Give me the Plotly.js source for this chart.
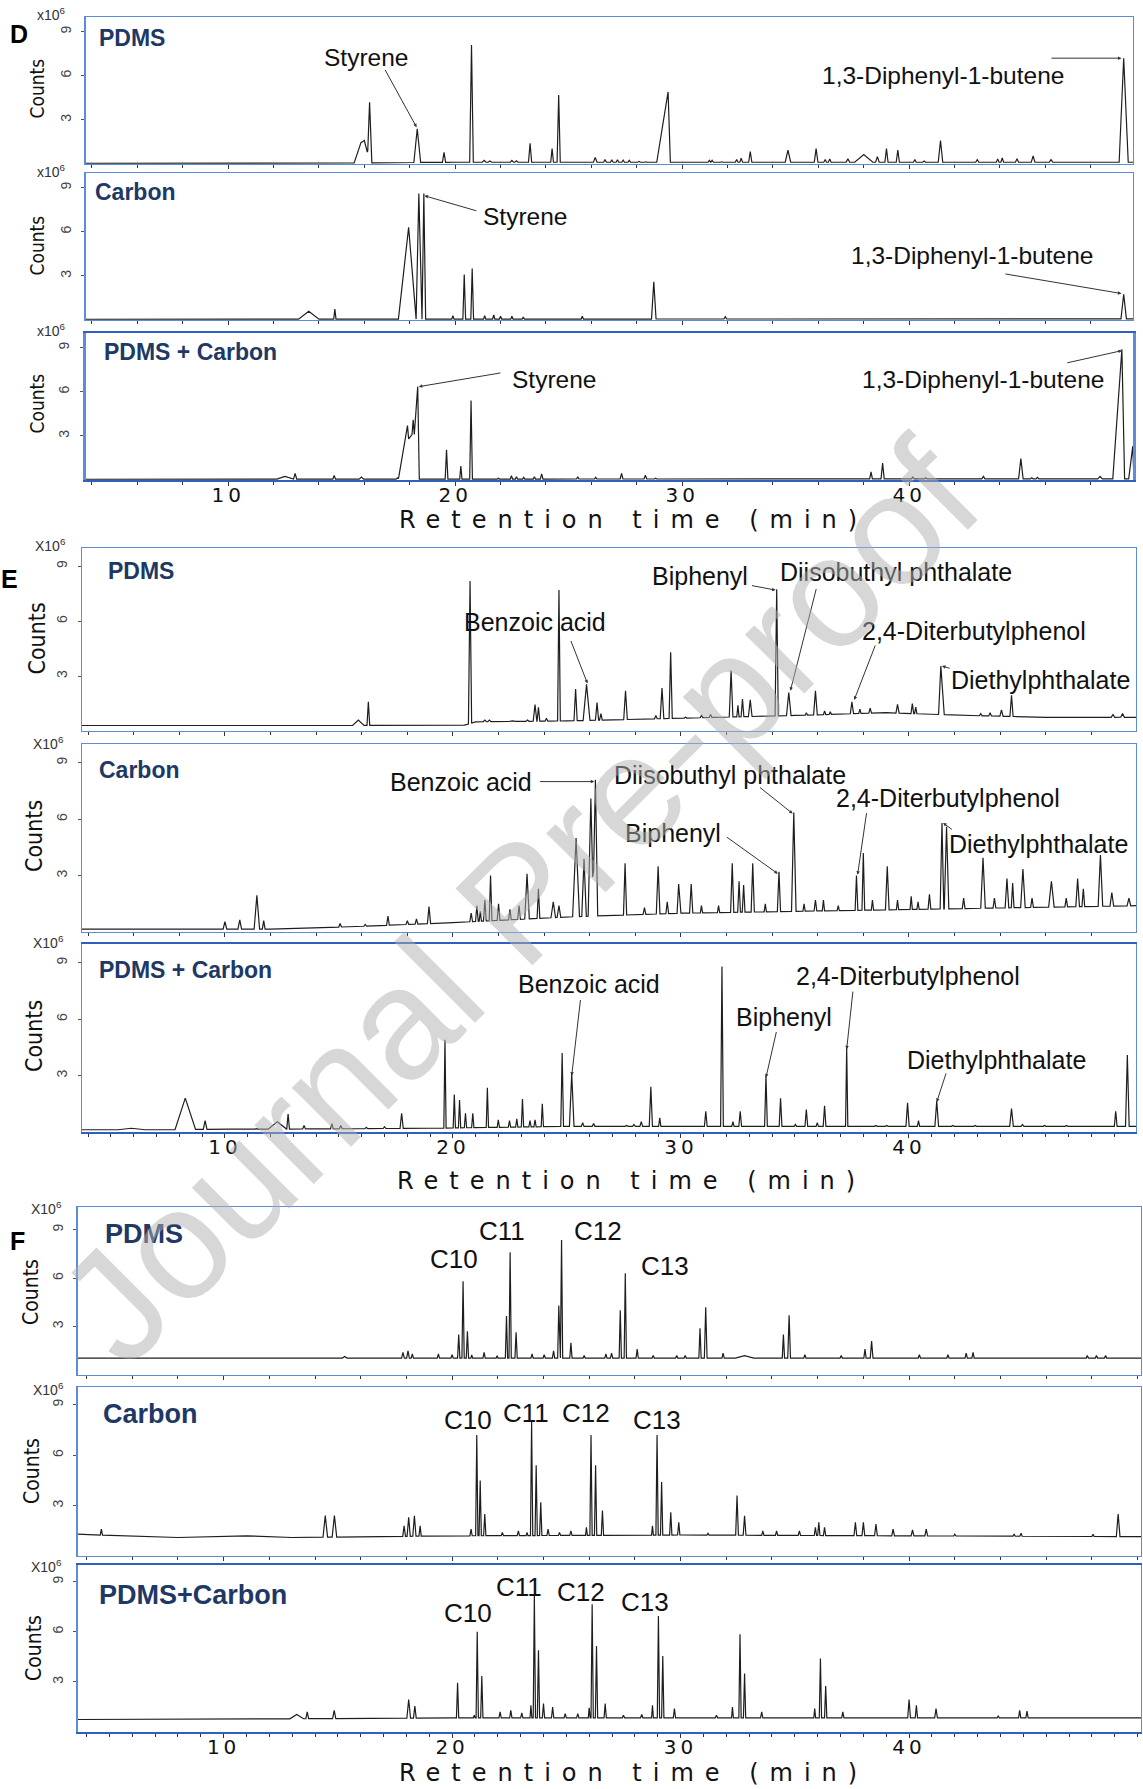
<!DOCTYPE html>
<html><head><meta charset="utf-8">
<script src="https://cdn.plot.ly/plotly-3.0.1.min.js"></script>
<style>html,body{margin:0;padding:0;background:#fff}</style>
</head><body><div id="chart" style="width:1143px;height:1789px"></div>
<script>
// ===== DATA (retention time in min, counts in 10^6) =====
// Peaks: [retention time, apex counts, half-width (or [left,right])]
const baseD1 = [[3.7,0.05],[15,0.07],[20,0.12],[49.9,0.12]];
const peaksD1 = [[15.85,1.45,0.3],[16.0,1.6,0.25],[16.23,4.2,0.1],[18.33,2.4,0.15],[18.92,0.12,0.05],[19.51,0.8,0.07],[20.72,8.1,0.08],
 [21.28,0.25,0.08],[21.53,0.2,0.08],[22.5,0.25,0.07],[22.7,0.22,0.07],[23.3,1.4,0.07],[24.27,1.05,0.06],[24.56,4.7,0.07],
 [26.17,0.45,0.08],[26.6,0.3,0.06],[26.9,0.28,0.06],[27.15,0.28,0.06],[27.4,0.26,0.06],[27.67,0.25,0.06],[28.1,0.18,0.06],[28.4,0.15,0.05],
 [29.38,4.9,[0.5,0.1]],[30.08,0.12,0.06],[31.2,0.25,0.06],[31.32,0.25,0.06],[31.75,0.15,0.05],[32.4,0.3,0.06],[32.6,0.4,0.06],[33.0,0.85,0.07],
 [34.66,0.95,0.12],[35.9,1.05,0.08],[36.3,0.3,0.06],[36.5,0.35,0.06],[37.3,0.35,0.08],[38.0,0.65,0.4],[38.6,0.5,0.08],[39.0,1.05,0.07],[39.5,0.95,0.07],
 [40.25,0.3,0.06],[40.66,0.2,0.06],[41.38,1.6,0.1],[43.0,0.3,0.07],[43.9,0.35,0.06],[44.1,0.42,0.06],[44.75,0.35,0.07],[45.46,0.55,0.08],[46.25,0.3,0.08],
 [49.45,7.2,0.2]];

const baseD2 = [[3.7,0.05],[49.9,0.08]];
const peaksD2 = [[13.55,0.6,0.45],[14.7,0.75,0.05],[17.95,6.3,[0.45,0.3]],[18.4,8.6,0.12],[18.62,8.6,0.08],[19.9,0.3,0.05],[20.4,3.1,0.06],[20.75,3.5,0.06],
 [21.3,0.3,0.05],[21.7,0.35,0.05],[22.0,0.25,0.05],[22.5,0.25,0.05],[23.0,0.2,0.05],[25.6,0.25,0.05],[28.75,2.6,0.1],[31.9,0.22,0.06],[49.45,1.75,0.12]];

const baseD3 = [[3.7,0.05],[12,0.06],[49.9,0.08]];
const peaksD3 = [[5.5,0.1,0.2],[12.5,0.25,0.35],[12.95,0.45,0.07],[14.67,0.3,0.06],[15.87,0.2,0.1],[17.46,0.15,0.06],
 [17.9,3.7,[0.4,0.2]],[18.15,4.1,0.2],[18.35,6.35,[0.15,0.07]],[19.62,2.05,0.06],[20.25,0.95,0.05],[20.7,5.4,0.06],
 [21.9,0.12,0.05],[22.48,0.3,0.05],[22.7,0.22,0.05],[23.02,0.18,0.05],[23.49,0.22,0.05],[23.81,0.42,0.06],
 [25.4,0.22,0.05],[26.19,0.18,0.05],[27.33,0.45,0.06],[28.38,0.32,0.06],[28.83,0.12,0.05],[35.24,0.1,0.05],
 [38.32,0.55,0.06],[38.83,1.15,0.07],[40.16,0.2,0.06],[40.73,0.15,0.06],[43.27,0.25,0.07],[44.92,1.45,0.1],[45.4,0.15,0.06],[45.65,0.18,0.06],
 [47.14,0.1,0.06],[48.41,0.25,0.1],[49.37,8.9,[0.4,0.12]],[49.85,2.3,[0.18,0.05]]];

const baseE1 = [[3.7,0.3],[15.5,0.3],[20.5,0.32],[21,0.5],[25,0.55],[30,0.7],[35,0.85],[39,1.0],[42.5,0.85],[46,0.75],[50,0.75]];
const peaksE1 = [[15.85,0.6,0.25],[16.29,1.6,0.06],[20.75,8.2,0.07],[21.4,0.6,0.07],[21.6,0.6,0.07],[22.6,0.55,0.15],[23.27,0.6,0.07],[23.6,1.45,0.08],[23.75,1.3,0.06],[24.1,0.7,0.06],[24.65,7.7,0.06],
 [25.38,2.3,0.07],[25.86,2.55,0.15],[26.32,1.55,0.07],[26.49,0.95,0.06],[27.57,2.2,0.08],[28.9,0.85,0.06],[29.17,2.35,0.08],[29.55,4.3,0.07],[30.2,0.75,0.06],[30.9,0.85,0.06],[31.3,0.9,0.06],
 [32.2,3.3,0.08],[32.5,1.4,0.05],[32.7,1.75,0.06],[33.04,1.7,0.08],[34.2,7.75,0.07],[34.73,2.1,0.1],[35.5,1.0,0.05],[35.9,2.2,0.08],[36.3,1.1,0.05],[36.55,1.05,0.05],
 [37.5,1.6,0.07],[37.85,1.2,0.05],[38.3,1.25,0.06],[39.5,1.45,0.07],[40.15,1.5,0.06],[40.3,1.3,0.05],[41.4,3.55,[0.1,0.15]],[43.15,0.95,0.06],[43.56,1.0,0.06],[44.06,1.15,0.07],[44.5,1.95,0.07],
 [48.95,0.9,0.08],[49.37,0.95,0.08]];

const baseE2 = [[3.7,0.15],[12,0.15],[16,0.3],[20,0.5],[25,0.8],[30,1.0],[35,1.1],[40,1.2],[45,1.3],[50,1.4]];
const peaksE2 = [[10.0,0.55,0.08],[10.65,0.65,0.08],[11.4,1.95,0.12],[11.7,0.6,0.06],[15.05,0.45,0.06],[16.15,0.4,0.06],[17.15,0.85,0.06],[18.0,0.6,0.06],[18.4,0.7,0.06],[18.95,1.35,0.07],
 [20.8,1.0,0.06],[21.05,1.4,0.06],[21.2,1.1,0.05],[21.4,1.7,0.06],[21.65,3.0,0.06],[22.0,1.5,0.06],[22.5,1.2,0.06],[22.9,1.4,0.06],[23.25,3.1,0.1],[23.75,2.3,0.06],[24.4,1.6,0.1],[24.65,1.4,0.08],
 [25.4,5.0,0.15],[25.75,3.9,0.1],[26.05,7.1,0.12],[26.25,8.1,[0.12,0.1]],[27.55,3.65,0.07],[28.4,1.3,0.06],[29.0,3.5,0.08],[29.4,1.6,0.06],[29.9,2.55,0.07],[30.45,2.55,0.07],[30.9,1.4,0.05],
 [31.65,1.4,0.05],[32.25,3.65,0.07],[32.55,2.7,0.06],[32.75,2.5,0.06],[33.15,3.65,0.07],[33.7,1.5,0.05],[34.3,3.2,0.07],[34.95,6.35,0.1],[35.4,1.5,0.05],[35.9,1.7,0.06],[36.25,1.7,0.05],[36.9,1.4,0.05],
 [37.7,3.0,0.06],[38.0,4.2,0.06],[38.4,1.7,0.05],[39.05,3.5,0.08],[39.5,1.7,0.05],[40.1,1.9,0.05],[40.4,1.6,0.05],[40.9,2.0,0.06],[41.45,5.8,0.08],[41.65,5.6,0.1],
 [42.4,1.8,0.06],[43.25,3.95,0.1],[43.75,1.8,0.06],[44.3,2.85,0.08],[44.55,2.6,0.06],[45.0,3.35,0.1],[45.4,1.8,0.06],[46.25,2.7,0.12],[46.9,1.8,0.06],[47.4,2.85,0.08],[47.65,2.3,0.06],
 [48.4,4.1,0.1],[48.9,2.1,0.08],[49.65,1.8,0.08]];

const baseE3 = [[3.7,0.12],[7,0.12],[10,0.15],[12,0.15],[19,0.2],[25,0.3],[50,0.3]];
const peaksE3 = [[5.9,0.2,0.6],[8.26,1.8,0.45],[9.13,0.6,0.08],[10.19,0.18,0.06],[11.38,0.18,0.06],[12.3,0.55,0.4],[12.77,0.95,0.06],[13.47,0.35,0.06],[14.69,0.45,0.06],[15.08,0.35,0.06],
 [16.2,0.25,0.06],[17.0,0.28,0.06],[17.75,1.0,0.07],[19.65,4.9,0.05],[20.06,2.0,0.05],[20.29,1.7,0.05],[20.55,1.0,0.05],[20.87,1.0,0.05],[21.51,2.35,0.05],[21.99,0.65,0.05],
 [22.48,0.6,0.05],[22.8,0.7,0.05],[23.05,1.75,0.05],[23.38,0.6,0.05],[23.6,0.65,0.05],[23.92,1.5,0.05],[24.79,4.2,0.06],[25.21,3.1,0.1],[25.69,0.5,0.06],[26.17,0.45,0.06],
 [26.82,0.3,0.06],[27.62,0.35,0.06],[27.94,0.4,0.06],[28.26,0.55,0.06],[28.68,2.4,0.07],[29.07,0.75,0.05],[29.87,0.25,0.06],[31.09,1.1,0.06],[31.8,8.8,0.06],[32.28,0.55,0.05],
 [32.6,1.1,0.06],[33.73,3.0,0.06],[34.37,1.8,0.06],[35.02,0.4,0.05],[35.5,1.2,0.06],[35.98,0.5,0.05],[36.3,1.4,0.06],[37.27,4.5,0.05],[38.55,0.35,0.06],[39.03,0.35,0.06],
 [39.94,1.55,0.07],[40.42,0.6,0.05],[41.22,1.65,0.08],[41.93,0.35,0.06],[42.9,0.35,0.06],[44.5,1.25,0.08],[44.98,0.4,0.06],[45.95,0.35,0.06],[46.91,0.35,0.06],[47.88,0.3,0.06],
 [49.07,1.1,0.06],[49.58,4.1,0.08]];

const baseF1 = [[3.6,1.05],[50.2,1.05]];
const peaksF1 = [[15.3,1.15,0.1],[17.85,1.4,0.06],[18.07,1.5,0.06],[18.26,1.3,0.05],[19.4,1.3,0.05],[20.0,1.25,0.05],[20.29,2.5,0.05],[20.48,5.8,0.05],[20.67,2.7,0.05],[20.86,1.25,0.04],[21.4,1.4,0.05],
 [21.97,1.2,0.04],[22.38,3.65,0.05],[22.54,7.6,0.05],[22.8,2.65,0.05],[23.5,1.3,0.05],[24.03,1.25,0.05],[24.44,1.5,0.05],[24.67,4.3,0.05],[24.79,8.35,0.05],[25.2,2.0,0.05],[25.78,1.2,0.05],
 [26.73,1.3,0.05],[26.98,1.35,0.05],[27.36,4.0,0.05],[27.58,6.3,0.05],[28.1,1.6,0.05],[28.8,1.2,0.05],[29.83,1.2,0.05],[30.2,1.2,0.05],[30.85,2.9,0.05],[31.1,4.2,0.06],[31.86,1.35,0.05],
 [32.8,1.2,0.4],[34.5,2.5,0.05],[34.75,3.7,0.06],[35.44,1.25,0.05],[37.03,1.2,0.05],[38.07,1.6,0.05],[38.36,2.1,0.06],[40.45,1.25,0.05],[41.7,1.25,0.05],[42.5,1.35,0.05],[42.8,1.4,0.05],
 [47.8,1.2,0.05],[48.2,1.2,0.05],[48.6,1.2,0.05]];

const baseF2 = [[3.6,1.3],[4.5,1.25],[8,1.1],[11,1.2],[13,1.1],[20,1.2],[30,1.25],[40,1.2],[50.2,1.15]];
const peaksF2 = [[4.65,1.6,0.05],[14.45,2.4,0.1],[14.85,2.4,0.1],[17.9,1.8,0.06],[18.1,2.3,0.07],[18.35,2.4,0.07],[18.6,1.8,0.05],[20.83,1.6,0.05],[21.08,7.2,0.05],[21.23,4.5,0.05],[21.43,2.5,0.05],
 [22.2,1.4,0.05],[22.9,1.5,0.05],[23.28,1.4,0.04],[23.48,8.0,0.05],[23.68,5.4,0.05],[23.88,3.2,0.05],[24.2,1.6,0.05],[24.7,1.4,0.05],[25.2,1.5,0.05],
 [25.88,1.7,0.04],[26.08,7.2,0.05],[26.28,5.4,0.05],[26.58,2.7,0.05],[28.77,1.8,0.04],[28.97,7.2,0.05],[29.17,4.4,0.05],[29.57,2.6,0.05],[29.92,2.0,0.05],
 [31.2,1.35,0.05],[32.47,3.6,0.06],[32.8,2.4,0.06],[33.6,1.5,0.05],[34.2,1.5,0.05],[35.2,1.5,0.05],[35.9,1.7,0.05],[36.05,2.0,0.05],[36.3,1.7,0.05],
 [37.65,2.0,0.06],[38.0,2.0,0.06],[38.55,1.9,0.06],[39.3,1.6,0.06],[40.15,1.55,0.06],[40.75,1.6,0.06],[42.0,1.3,0.05],[44.6,1.3,0.05],[44.9,1.35,0.05],[48.05,1.3,0.05],[49.15,2.5,0.08]];

const baseF3 = [[3.6,0.75],[12,0.78],[20,0.85],[50.2,0.85]];
const peaksF3 = [[13.2,1.05,0.3],[13.66,1.2,0.06],[14.84,1.3,0.07],[18.1,1.95,0.08],[18.37,1.55,0.06],[20.24,2.95,0.05],[20.97,1.0,0.04],[21.1,6.0,0.05],[21.3,3.35,0.05],
 [22.1,1.2,0.05],[22.57,1.3,0.05],[23.05,1.15,0.05],[23.45,1.6,0.04],[23.6,8.15,0.05],[23.78,4.9,0.05],[24.0,1.7,0.05],[24.4,1.5,0.05],[24.95,1.1,0.05],[25.5,1.1,0.05],
 [26.0,1.45,0.04],[26.13,7.65,0.05],[26.32,5.15,0.05],[26.7,1.7,0.05],[27.5,1.0,0.05],[28.3,1.05,0.05],[28.77,1.6,0.04],[29.03,6.95,0.05],[29.22,4.55,0.05],[29.73,1.4,0.05],
 [31.57,1.0,0.05],[32.27,1.5,0.04],[32.6,5.85,0.05],[32.8,3.5,0.05],[33.55,1.2,0.05],[35.87,1.4,0.04],[36.12,4.4,0.05],[36.35,2.75,0.05],[37.1,1.2,0.05],
 [40.0,1.95,0.06],[40.32,1.6,0.05],[41.18,1.4,0.06],[43.9,0.95,0.05],[44.84,1.3,0.05],[45.16,1.25,0.05]];

const yTickVals = [3, 6, 9];
const xTickVals = [10, 20, 30, 40];
const xTickText = ['10', '20', '30', '40'];

// Compound labels: [text, rt, counts]; arrows: [tailRt, tailCounts, headRt, headCounts]
const labelsD1 = [['Styrene',16.08,7.27],['1,3-Diphenyl-1-butene',41.5,6.03]];
const arrowsD1 = [[16.88,6.5,18.3,2.5],[46.2,7.2,49.35,7.2]];
const labelsD2 = [['Styrene',23.07,7.04],['1,3-Diphenyl-1-butene',42.76,4.39]];
const arrowsD2 = [[21.0,7.4,18.65,8.45],[44.17,3.15,49.35,1.8]];
const labelsD3 = [['Styrene',24.37,6.85],['1,3-Diphenyl-1-butene',43.27,6.85]];
const arrowsD3 = [[22.06,7.3,18.4,6.35],[46.9,7.95,49.37,8.8]];
const labelsE1 = [['Benzoic acid',23.6,5.96],['Biphenyl',30.85,8.46],['Diisobuthyl phthalate',39.45,8.71],['2,4-Diterbutylphenol',42.85,5.45],['Diethylphthalate',45.75,2.76]];
const arrowsE1 = [[25.15,5.0,25.9,2.6],[33.05,7.96,34.15,7.7],[35.95,7.84,34.8,2.2],[38.55,4.76,37.6,1.7],[41.85,3.4,41.45,3.55]];
const labelsE2 = [['Benzoic acid',20.35,7.99],['Diisobuthyl phthalate',32.15,8.35],['2,4-Diterbutylphenol',41.7,7.13],['Biphenyl',29.65,5.24],['Diethylphthalate',45.7,4.7]];
const arrowsE2 = [[23.75,8.0,26.2,8.0],[33.4,7.75,34.9,6.3],[38.15,6.4,37.75,3.05],[31.95,5.1,34.25,3.1],[41.95,5.4,41.5,5.8]];
const labelsE3 = [['Benzoic acid',25.95,7.87],['2,4-Diterbutylphenol',39.95,8.29],['Biphenyl',34.5,6.1],['Diethylphthalate',43.85,3.84]];
const arrowsE3 = [[25.6,7.1,25.21,3.0],[37.55,7.55,37.27,4.4],[34.2,5.4,33.73,2.9],[41.65,3.2,41.22,1.6]];
const labelsF1 = [['C10',20.08,7.16],['C11',22.18,8.94],['C12',26.38,8.94],['C13',29.32,6.74]];
const labelsF2 = [['C10',20.68,8.1],['C11',23.23,8.5],['C12',25.88,8.5],['C13',28.97,8.1]];
const labelsF3 = [['C10',20.68,7.1],['C11',22.93,8.7],['C12',25.65,8.36],['C13',28.45,7.8]];

// ===== LAYOUT / STYLE =====
const W = 1143, H = 1789;
const PX = v => v / W, PY = v => 1 - v / H;
const NAVY = '#203864', BOX = '#5b8dd8', DARKBOX = '#2f60c0';
const TXT = 'Liberation Sans, Arial, sans-serif';
const NARROW = 'Liberation Sans Narrow, DejaVu Sans Condensed, sans-serif';

const panels = [
 {base:baseD1,peaks:peaksD1,labels:labelsD1,arrows:arrowsD1,xr:[3.72,49.86],x0:85.6,x1:1133,t:17,b:164,yr:[0,10],minor:2,last:false,
  name:'PDMS',nx:97,ny:38,ns:23,cx:36.5,cy:89,cs:19,mx:51,my:14,mt:'x10<sup>6</sup>',fs:24.5},
 {base:baseD2,peaks:peaksD2,labels:labelsD2,arrows:arrowsD2,xr:[3.72,49.86],x0:85.6,x1:1133,t:173,b:320,yr:[0,10],minor:2,last:false,
  name:'Carbon',nx:93,ny:192,ns:23,cx:36.5,cy:246,cs:19,mx:51,my:171,mt:'x10<sup>6</sup>',fs:24.5},
 {base:baseD3,peaks:peaksD3,labels:labelsD3,arrows:arrowsD3,xr:[3.72,49.86],x0:85.6,x1:1133,t:333,b:480,yr:[0,10],minor:2,last:true,
  name:'PDMS + Carbon',nx:102,ny:352,ns:23,cx:36.5,cy:404,cs:19,mx:51,my:330,mt:'x10<sup>6</sup>',fs:24.5,tx:633,ty:520},
 {base:baseE1,peaks:peaksE1,labels:labelsE1,arrows:arrowsE1,xr:[3.73,49.96],x0:82,x1:1136,t:548,b:731,yr:[0,10],minor:2,last:false,
  name:'PDMS',nx:106,ny:571,ns:23,cx:36.5,cy:639,cs:23,mx:50,my:545,mt:'X10<sup>6</sup>',fs:25},
 {base:baseE2,peaks:peaksE2,labels:labelsE2,arrows:arrowsE2,xr:[3.73,49.96],x0:82,x1:1136,t:744,b:932,yr:[0,10],minor:2,last:false,
  name:'Carbon',nx:97,ny:770,ns:23,cx:34,cy:836,cs:23,mx:48,my:743,mt:'X10<sup>6</sup>',fs:25},
 {base:baseE3,peaks:peaksE3,labels:labelsE3,arrows:arrowsE3,xr:[3.73,49.96],x0:82,x1:1136,t:944,b:1132,yr:[0,10],minor:1,last:true,
  name:'PDMS + Carbon',nx:97,ny:970,ns:23,cx:34,cy:1036,cs:23,mx:48,my:942,mt:'X10<sup>6</sup>',fs:25,tx:631,ty:1181},
 {base:baseF1,peaks:peaksF1,labels:labelsF1,arrows:[],xr:[3.61,50.15],x0:77.6,x1:1141,t:1207,b:1375,yr:[0,10.4],minor:2,last:false,
  name:'PDMS',nx:103,ny:1234,ns:27,cx:31,cy:1292,cs:21,mx:46,my:1208,mt:'X10<sup>6</sup>',fs:26},
 {base:baseF2,peaks:peaksF2,labels:labelsF2,arrows:[],xr:[3.61,50.15],x0:77.6,x1:1141,t:1387,b:1556,yr:[0,10.06],minor:2,last:false,
  name:'Carbon',nx:101,ny:1414,ns:27,cx:32,cy:1471,cs:21,mx:48,my:1389,mt:'X10<sup>6</sup>',fs:26},
 {base:baseF3,peaks:peaksF3,labels:labelsF3,arrows:[],xr:[3.61,50.15],x0:77.6,x1:1141,t:1565,b:1732,yr:[0,10],minor:1,last:true,
  name:'PDMS+Carbon',nx:97,ny:1595,ns:27,cx:34,cy:1648,cs:21,mx:46,my:1566,mt:'X10<sup>6</sup>',fs:26,tx:633,ty:1773}
];

function buildSeries(base, peaks) {
  const bx = base.map(p => p[0]), by = base.map(p => p[1]);
  const baseAt = x => {
    if (x <= bx[0]) return by[0];
    for (let i = 1; i < bx.length; i++) {
      if (x <= bx[i]) { const t = (x - bx[i-1]) / (bx[i] - bx[i-1]); return by[i-1] + t * (by[i] - by[i-1]); }
    }
    return by[by.length - 1];
  };
  const wOf = p => Array.isArray(p[2]) ? p[2] : [p[2], p[2]];
  let xs = bx.slice();
  peaks.forEach(p => { const w = wOf(p); xs.push(p[0] - w[0], p[0], p[0] + w[1]); });
  xs = Array.from(new Set(xs.map(v => +v.toFixed(4)))).sort((a, b) => a - b);
  const ys = xs.map(x => {
    const b = baseAt(x); let v = b;
    peaks.forEach(p => {
      const w = wOf(p), d = x - p[0], ww = d < 0 ? w[0] : w[1];
      if (Math.abs(d) <= ww + 1e-9) {
        const val = b + (p[1] - baseAt(p[0])) * (1 - Math.abs(d) / ww);
        if (val > v) v = val;
      }
    });
    return v;
  });
  return {x: xs, y: ys};
}

const traces = [], layout = {
  width: W, height: H, margin: {l:0, r:0, t:0, b:0}, showlegend: false,
  paper_bgcolor: '#fff', plot_bgcolor: '#fff', annotations: []
};
const A = layout.annotations;

panels.forEach((p, i) => {
  const n = i + 1, xs = n === 1 ? '' : String(n);
  const xk = 'x' + xs, yk = 'y' + xs;
  const s = buildSeries(p.base, p.peaks);
  traces.push({x: s.x, y: s.y, type: 'scatter', mode: 'lines', xaxis: xk, yaxis: yk,
    line: {color: '#1e1e1e', width: 1.2}, hoverinfo: 'skip'});
  layout['xaxis' + xs] = {
    domain: [PX(p.x0), PX(p.x1)], range: p.xr, anchor: yk,
    showline: true, mirror: true, linecolor: p.last ? DARKBOX : BOX, linewidth: p.last ? 2 : 1.3,
    showgrid: false, zeroline: false, tickmode: 'array', tickvals: xTickVals,
    ticktext: xTickText.map(t => '<span style="letter-spacing:4px">' + t + '</span>'),
    ticks: 'outside', ticklen: 4, tickcolor: '#333', tickwidth: 1, ticklabelstandoff: -8,
    showticklabels: p.last, tickfont: {family: 'DejaVu Sans, Verdana, sans-serif', size: 20, color: '#111'},
    minor: {dtick: p.minor, tick0: 0, ticks: 'outside', ticklen: 3, tickcolor: '#333', tickwidth: 1},
    fixedrange: true
  };
  layout['yaxis' + xs] = {
    domain: [PY(p.b), PY(p.t)], range: p.yr, anchor: xk,
    showline: true, mirror: true, linecolor: BOX, linewidth: (i === 2) ? 3 : 1.3,
    showgrid: false, zeroline: false, tickmode: 'array', tickvals: yTickVals,
    ticks: 'outside', ticklen: 3, tickcolor: '#555', tickangle: -90, ticklabelstandoff: 5,
    tickfont: {family: TXT, size: 14, color: '#444'}, fixedrange: true
  };
  // panel name
  A.push({xref:'paper', yref:'paper', x:PX(p.nx), y:PY(p.ny), xanchor:'left', yanchor:'middle', showarrow:false,
    text:'<b>' + p.name + '</b>', font:{family:TXT, size:p.ns, color:NAVY}});
  // Counts title
  A.push({xref:'paper', yref:'paper', x:PX(p.cx), y:PY(p.cy), xanchor:'center', yanchor:'middle', showarrow:false,
    text:'Counts', textangle:-90, font:{family:NARROW, size:p.cs, color:'#111'}});
  // multiplier
  A.push({xref:'paper', yref:'paper', x:PX(p.mx), y:PY(p.my), xanchor:'center', yanchor:'middle', showarrow:false,
    text:p.mt, font:{family:TXT, size:14, color:'#333'}});
  // compound labels
  p.labels.forEach(l => A.push({xref:xk, yref:yk, x:l[1], y:l[2], text:l[0], showarrow:false,
    xanchor:'center', yanchor:'middle', font:{family:TXT, size:p.fs, color:'#111'}}));
  p.arrows.forEach(a => A.push({xref:xk, yref:yk, axref:xk, ayref:yk, x:a[2], y:a[3], ax:a[0], ay:a[1], text:'',
    showarrow:true, arrowhead:2, arrowsize:0.7, arrowwidth:1, arrowcolor:'#333', standoff:0, startstandoff:0}));
  if (p.last) {
    A.push({xref:'paper', yref:'paper', x:PX(p.tx), y:PY(p.ty), xanchor:'center', yanchor:'middle', showarrow:false,
      text:'<span style="letter-spacing:11px">Retention time (min)</span>',
      font:{family:'DejaVu Sans, Verdana, sans-serif', size:24, color:'#111'}});
  }
});

// panel letters
[['D',19,34],['E',9,579],['F',17,1241]].forEach(L => A.push({xref:'paper', yref:'paper', x:PX(L[1]), y:PY(L[2]),
  xanchor:'center', yanchor:'middle', showarrow:false, text:'<b>' + L[0] + '</b>', font:{family:TXT, size:25, color:'#000'}}));

// watermark
A.push({xref:'paper', yref:'paper', x:PX(519), y:PY(901), xanchor:'center', yanchor:'middle', showarrow:false,
  text:'Journal Pre-proof', textangle:-45, font:{family:TXT, size:158, color:'rgba(175,175,175,0.5)'}});

Plotly.newPlot('chart', traces, layout, {displayModeBar:false, staticPlot:true});
</script></body></html>
